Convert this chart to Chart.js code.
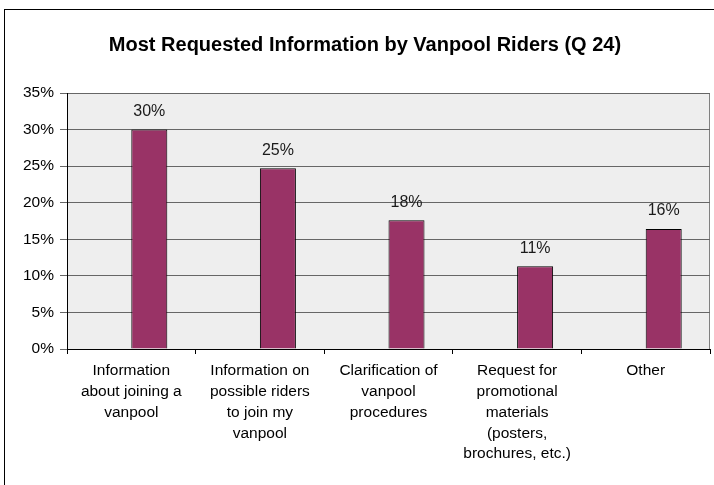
<!DOCTYPE html>
<html>
<head>
<meta charset="utf-8">
<script src="https://cdn.jsdelivr.net/npm/chart.js@4.4.1/dist/chart.umd.min.js"></script>
<style>
html, body { margin: 0; padding: 0; background: #ffffff; }
#caixa { width: 714px; height: 485px; }
</style>
</head>
<body>
<div id="caixa"><canvas id="grafico"></canvas></div>
<script>
var titulo = 'Most Requested Information by Vanpool Riders (Q 24)';

var categorias = [
    ['Information', 'about joining a', 'vanpool'],
    ['Information on', 'possible riders', 'to join my', 'vanpool'],
    ['Clarification of', 'vanpool', 'procedures'],
    ['Request for', 'promotional', 'materials', '(posters,', 'brochures, etc.)'],
    ['Other']
];

var percentuais = [30, 24.7, 17.6, 11.3, 16.4];

var eixoY = { min: 0, max: 35, passo: 5 };

var fonte = "'Liberation Sans', Arial, sans-serif";

// moldura externa, fundo cinza da area do grafico, titulo e rotulos das barras
var molduraPlugin = {
    id: 'moldura',
    beforeDraw: function (chart) {
        var ctx = chart.ctx;
        var a = chart.chartArea;
        ctx.save();
        ctx.fillStyle = '#ffffff';
        ctx.fillRect(0, 0, chart.width, chart.height);
        ctx.strokeStyle = '#000000';
        ctx.lineWidth = 1;
        ctx.strokeRect(4.5, 9.5, chart.width + 20, chart.height + 20);

        ctx.fillStyle = '#eeeeee';
        ctx.fillRect(a.left, a.top, a.right - a.left, a.bottom - a.top);
        ctx.strokeStyle = '#808080';
        ctx.strokeRect(a.left + 0.5, a.top + 0.5, a.right - a.left - 1, a.bottom - a.top);

        ctx.fillStyle = '#000000';
        ctx.font = 'bold 20px ' + fonte;
        ctx.textAlign = 'center';
        ctx.textBaseline = 'middle';
        ctx.fillText(titulo, 365, 45);
        ctx.restore();
    },
    afterDatasetsDraw: function (chart) {
        var ctx = chart.ctx;
        var meta = chart.getDatasetMeta(1);
        ctx.save();
        ctx.fillStyle = '#1a1a1a';
        ctx.font = '16px ' + fonte;
        ctx.textAlign = 'center';
        ctx.textBaseline = 'middle';
        meta.data.forEach(function (barra, i) {
            ctx.fillText(Math.round(percentuais[i]) + '%', barra.x, barra.y - 18);
        });
        ctx.restore();
    }
};

var ctx = document.getElementById('grafico').getContext('2d');
window.grafico = new Chart(ctx, {
    type: 'bar',
    data: {
        labels: categorias,
        datasets: [
            {
                // serie vazia, ocupa a metade esquerda de cada grupo
                label: '',
                data: [],
                categoryPercentage: 0.56,
                barPercentage: 1
            },
            {
                label: 'Riders',
                data: percentuais,
                backgroundColor: '#993366',
                borderColor: '#000000',
                borderWidth: 1,
                categoryPercentage: 0.56,
                barPercentage: 1
            }
        ]
    },
    options: {
        responsive: true,
        maintainAspectRatio: false,
        animation: false,
        layout: {
            padding: { top: 93, left: 7, right: 4, bottom: 0 }
        },
        scales: {
            y: {
                min: eixoY.min,
                max: eixoY.max,
                afterFit: function (scale) { scale.width = 60; },
                ticks: {
                    stepSize: eixoY.passo,
                    color: '#000000',
                    padding: 6,
                    font: { family: fonte, size: 15.5 },
                    callback: function (v) { return v + '%'; }
                },
                grid: {
                    color: '#666666',
                    tickLength: 7
                },
                border: { color: '#000000' }
            },
            x: {
                afterFit: function (scale) { scale.height = 136; },
                ticks: {
                    color: '#000000',
                    padding: 6,
                    maxRotation: 0,
                    autoSkip: false,
                    font: { family: fonte, size: 15.5, lineHeight: 1.35 }
                },
                grid: {
                    offset: true,
                    drawOnChartArea: false,
                    color: '#000000',
                    tickLength: 5
                },
                border: { color: '#000000' }
            }
        },
        plugins: {
            legend: { display: false },
            tooltip: { enabled: false },
            title: { display: false }
        }
    },
    plugins: [molduraPlugin]
});
</script>
</body>
</html>
